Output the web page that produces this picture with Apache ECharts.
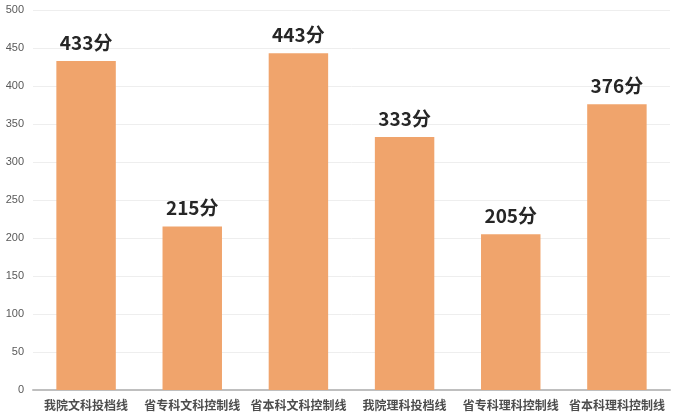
<!DOCTYPE html>
<html><head><meta charset="utf-8">
<script src="https://cdn.jsdelivr.net/npm/echarts@6/dist/echarts.min.js"></script>
<style>html,body{margin:0;padding:0;background:#fff}#c{width:676px;height:416px}</style>
</head><body><div id="c"></div>
<script>
var categories = ['我院文科投档线','省专科文科控制线','省本科文科控制线','我院理科投档线','省专科理科控制线','省本科理科控制线'];
var values = [433, 215, 443, 333, 205, 376];
var yTicks = [0, 50, 100, 150, 200, 250, 300, 350, 400, 450, 500];
var chart = echarts.init(document.getElementById('c'));
chart.setOption({
  animation: false,
  grid: {left: 33, right: 6, top: 10, bottom: 26, containLabel: false},
  xAxis: {
    type: 'category', data: categories,
    axisLine: {lineStyle: {color: '#bfbfbf', width: 2}},
    axisTick: {show: false},
    axisLabel: {color: '#4d4d4d', fontSize: 12, fontWeight: 'bold', interval: 0, margin: 9,
      fontFamily: '"Noto Sans CJK SC", sans-serif'}
  },
  yAxis: {
    type: 'value', min: yTicks[0], max: yTicks[yTicks.length-1], interval: 50,
    axisLine: {show: false}, axisTick: {show: false},
    axisLabel: {color: '#595959', fontSize: 11, margin: 9, fontFamily: 'Liberation Sans, sans-serif'},
    splitLine: {lineStyle: {color: '#eeeeee'}}
  },
  series: [{
    type: 'bar', data: values, barWidth: '56%',
    itemStyle: {color: '#F0A46C'},
    label: {show: true, position: 'top', distance: 9, formatter: '{c}分',
      color: '#262626', fontSize: 19, fontWeight: 'bold',
      fontFamily: '"Noto Sans CJK SC", sans-serif'}
  }]
});
</script></body></html>
